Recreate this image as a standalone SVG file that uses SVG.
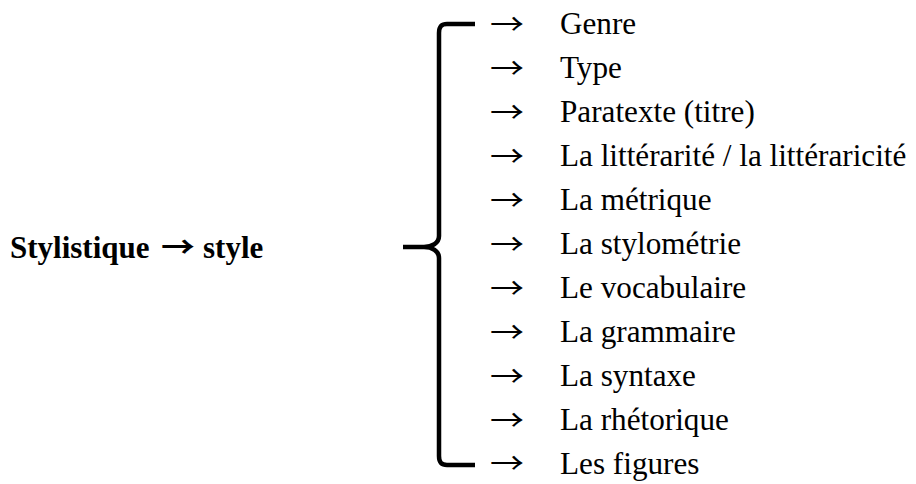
<svg xmlns="http://www.w3.org/2000/svg" width="916" height="484" viewBox="0 0 916 484">
<style>
.t{font-family:"Liberation Serif","Times New Roman",serif;font-size:31.2px;fill:#000}
.b{font-family:"Liberation Serif","Times New Roman",serif;font-size:31px;font-weight:bold;fill:#000}
.a{font-family:"Noto Sans CJK JP",sans-serif;font-size:29px;fill:#000}
.ab{font-family:"Noto Sans CJK JP",sans-serif;font-size:29px;font-weight:bold;fill:#000}
.br{fill:none;stroke:#000;stroke-width:4.5;stroke-linecap:butt;stroke-linejoin:round}
</style>
<rect width="916" height="484" fill="#fff"/>
<g id="root"><text class="b" x="10" y="258">Stylistique</text><text class="ab" transform="translate(161,258) scale(1.17,1)">→</text><text class="b" x="203" y="258">style</text></g>
<g id="connectors">
<path class="br" d="M475,24 L447,24 C441,24 439,27 439,33 L439,236 C439,243 432,247 424,247 L403,247 M424,247 C432,247 439,251 439,258 L439,456 C439,462 441,465 447,465 L475,465"/>
</g>
<g id="items">
<g id="n1"><text class="a" transform="translate(490,35) scale(1.17,1)">→</text><text class="t" x="560" y="34">Genre</text></g>
<g id="n2"><text class="a" transform="translate(490,79) scale(1.17,1)">→</text><text class="t" x="560" y="78">Type</text></g>
<g id="n3"><text class="a" transform="translate(490,123) scale(1.17,1)">→</text><text class="t" x="560" y="122">Paratexte (titre)</text></g>
<g id="n4"><text class="a" transform="translate(490,167) scale(1.17,1)">→</text><text class="t" x="560" y="166">La littérarité / la littéraricité</text></g>
<g id="n5"><text class="a" transform="translate(490,211) scale(1.17,1)">→</text><text class="t" x="560" y="210">La métrique</text></g>
<g id="n6"><text class="a" transform="translate(490,255) scale(1.17,1)">→</text><text class="t" x="560" y="254">La stylométrie</text></g>
<g id="n7"><text class="a" transform="translate(490,299) scale(1.17,1)">→</text><text class="t" x="560" y="298">Le vocabulaire</text></g>
<g id="n8"><text class="a" transform="translate(490,343) scale(1.17,1)">→</text><text class="t" x="560" y="342">La grammaire</text></g>
<g id="n9"><text class="a" transform="translate(490,387) scale(1.17,1)">→</text><text class="t" x="560" y="386">La syntaxe</text></g>
<g id="n10"><text class="a" transform="translate(490,431) scale(1.17,1)">→</text><text class="t" x="560" y="430">La rhétorique</text></g>
<g id="n11"><text class="a" transform="translate(490,474) scale(1.17,1)">→</text><text class="t" x="560" y="474">Les figures</text></g>
</g>
</svg>
